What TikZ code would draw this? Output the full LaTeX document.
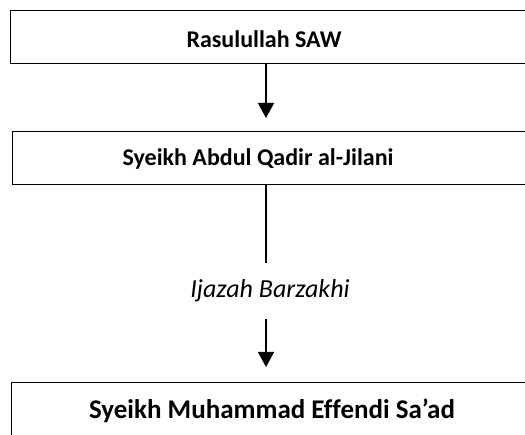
\documentclass[tikz,border=0pt]{standalone}
\usepackage{fontspec}
\setmainfont{Carlito}[Ligatures=NoCommon]
\usetikzlibrary{arrows.meta,positioning}

\begin{document}
\begin{tikzpicture}
[
x=1pt, y=-1pt,
frame/.style={draw, line width=1.3pt, minimum width=560pt, minimum height=53pt, anchor=north west, inner sep=0pt},
nametext/.style={font=\fontsize{24}{28}\selectfont\bfseries, inner sep=0pt},
arr/.style={line width=1.4pt, -{Triangle[width=16pt,length=15pt]}}
]
\useasboundingbox (0,0) rectangle (525,435);
\clip (0,0) rectangle (525,435);

\coordinate (axis) at (266,0);

% boxes
\node[frame] (box1) at (10,10) {};
\node[frame] (box2) at (12,131) {};
\node[frame] (box3) at (11,382) {};

\node[nametext] (rasul) at (264,39) {Rasulullah SAW};
\node[nametext] (jilani) at (258,159) {Syeikh Abdul Qadir al-Jilani};
\node[nametext, font=\fontsize{27}{31}\selectfont\bfseries] (effendi) at (272,411) {Syeikh Muhammad Effendi Sa’ad};

\node[inner sep=0pt, minimum height=56pt, font=\fontsize{26}{30}\selectfont\itshape] (ijazah) at (270,291) {Ijazah Barzakhi};

% connectors
\draw[arr, shorten >=13pt] (box1.south -| axis) -- (box2.north -| axis);
\draw[line width=1.4pt] (box2.south -| axis) -- (ijazah.north -| axis);
\draw[arr, shorten >=15pt] (ijazah.south -| axis) -- (box3.north -| axis);
\end{tikzpicture}
\end{document}
